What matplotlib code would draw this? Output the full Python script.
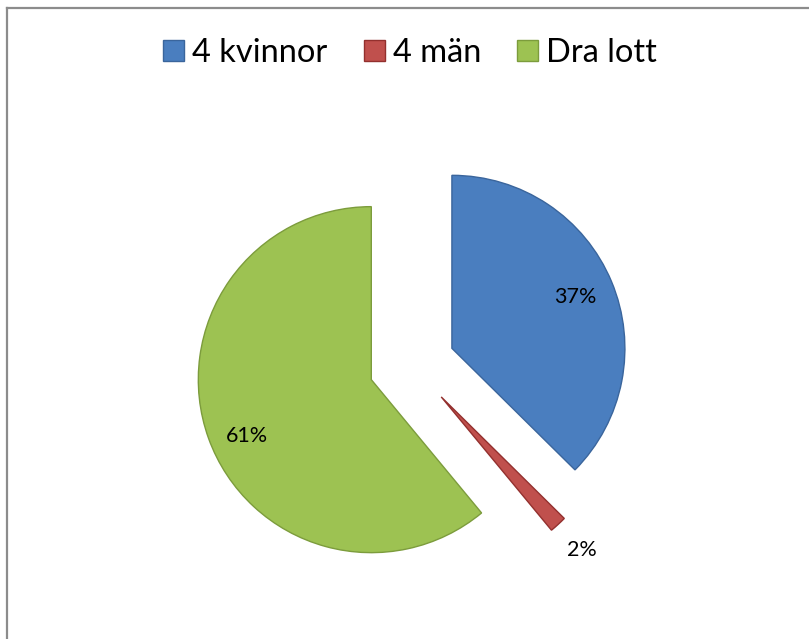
import matplotlib
matplotlib.use("Agg")
import matplotlib.pyplot as plt
from matplotlib.patches import Rectangle
from matplotlib.lines import Line2D
import numpy as np

plt.rcParams['font.family'] = ['Lato', 'DejaVu Sans']

categories = ["4 kvinnor", "4 män", "Dra lott"]
values = [37.4, 1.6, 61.0]
colors = ["#4a7ebf", "#c0504d", "#9dc252"]
edge_colors = ["#3a659c", "#93302e", "#7c9c3c"]

W, H = 809, 639
fig = plt.figure(figsize=(W / 100, H / 100), dpi=100)
ax = fig.add_axes([0, 0, 1, 1])

R = 173
center = (412, H - 365)
wedges, texts, autotexts = ax.pie(
    values, colors=colors, explode=[0.25 * R] * 3, radius=R, center=center,
    startangle=90, counterclock=False, autopct='%1.0f%%', pctdistance=0.77,
    wedgeprops=dict(linewidth=1.0), textprops=dict(fontsize=15.5, color='black'),
    frame=True)
ax.set_xlim(0, W)
ax.set_ylim(0, H)
ax.axis('off')

for w, ec in zip(wedges, edge_colors):
    w.set_edgecolor(ec)

# small slice label outside; large slice label slightly lower as in the original
w = wedges[1]
theta = np.deg2rad((w.theta1 + w.theta2) / 2)
cx, cy = w.center
autotexts[1].set_position((cx + 1.2 * R * np.cos(theta), cy + 1.2 * R * np.sin(theta)))
w = wedges[2]
theta = np.deg2rad((w.theta1 + w.theta2) / 2 + 4.5)
cx, cy = w.center
autotexts[2].set_position((cx + 0.79 * R * np.cos(theta), cy + 0.79 * R * np.sin(theta)))

handles = [Rectangle((0, 0), 1, 1, facecolor=c, edgecolor=e, linewidth=1)
           for c, e in zip(colors, edge_colors)]
fig.legend(handles, categories, loc='center', bbox_to_anchor=(0.507, 1 - 53 / H),
           ncol=3, frameon=False, fontsize=23.5, handlelength=0.64, handleheight=0.64,
           handletextpad=0.25, columnspacing=1.1, borderpad=0)

# chart area border (top and left visible)
fig.add_artist(Line2D([7.5 / W, 1.0], [1 - 7.5 / H, 1 - 7.5 / H], transform=fig.transFigure,
                      color='#8c8c8c', linewidth=1.6))
fig.add_artist(Line2D([7.5 / W, 7.5 / W], [0, 1 - 7.5 / H], transform=fig.transFigure,
                      color='#8c8c8c', linewidth=1.6))

fig.savefig("out.png", dpi=100, facecolor='white')
